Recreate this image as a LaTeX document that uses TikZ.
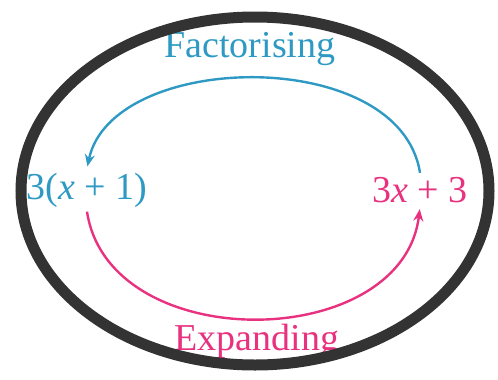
\documentclass[tikz,border=0pt]{standalone}
\usepackage{fontspec}
\setmainfont{Liberation Serif}
\usetikzlibrary{arrows.meta}

\definecolor{factblue}{RGB}{46,154,196}
\definecolor{exppink}{RGB}{232,50,127}
\definecolor{rimgray}{RGB}{51,51,51}

\begin{document}
\begin{tikzpicture}[x=0.5pt, y=-0.5pt, >=Stealth]
  \tikzset{
    term/.style={font=\fontsize{19}{21}\selectfont, inner sep=2pt},
    factor arc/.style={->, line width=1.2pt, draw=factblue,
      shorten >=1pt, arrows={-Stealth[length=6pt, width=5pt]}},
    expand arc/.style={->, line width=1.2pt, draw=exppink,
      shorten >=1pt, arrows={-Stealth[length=6pt, width=5pt]}},
    rim/.style={line width=5.5pt, draw=rimgray}
  }
  \useasboundingbox (0,0) rectangle (498,380);

  \node[term, text=factblue] (factored) at (87,190) {3(\textit{x} + 1)};
  \node[term, text=exppink] (expanded) at (420,190) {3\textit{x} + 3};
  \node[term, text=factblue] (factlabel) at (250,49) {Factorising};
  \node[term, text=exppink] (explabel) at (257,341) {Expanding};

  \draw[factor arc] (expanded.north) .. controls +(-20,-128) and +(25,-118) .. (factored.north);
  \draw[expand arc] (factored.south) .. controls +(22,145) and +(-18,146) .. (expanded.south);

  % outer ring
  \draw[rim] (255,191) ellipse [x radius=234, y radius=174];
\end{tikzpicture}
\end{document}
